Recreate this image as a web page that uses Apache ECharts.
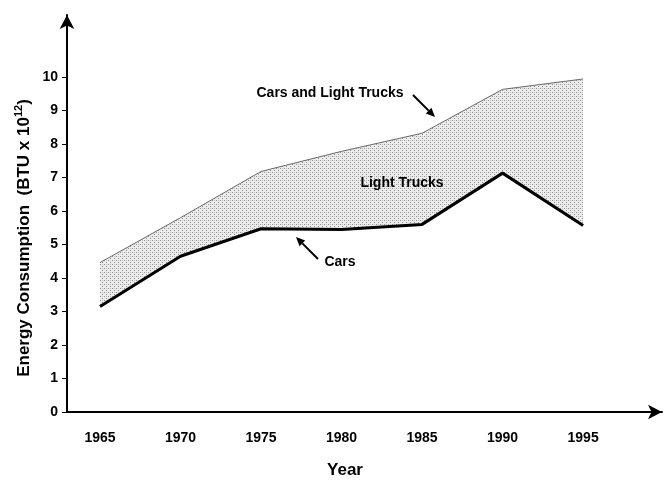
<!DOCTYPE html>
<html>
<head>
<meta charset="utf-8">
<script src="https://cdn.jsdelivr.net/npm/echarts@6/dist/echarts.min.js"></script>
<style>
html,body{margin:0;padding:0;background:#fff;}
#c{width:668px;height:481px;}
</style>
</head>
<body>
<div id="c"></div>
<script>
// ---- data ----
const years = [1965, 1970, 1975, 1980, 1985, 1990, 1995];
const carsValues = [3.15, 4.65, 5.47, 5.45, 5.6, 7.13, 5.57];
const carsAndLightTrucksValues = [4.46, 5.8, 7.18, 7.78, 8.32, 9.63, 9.94];
const xTickLabels = [1965, 1970, 1975, 1980, 1985, 1990, 1995];
const yTickLabels = [0, 1, 2, 3, 4, 5, 6, 7, 8, 9, 10];

const FONT = '"Liberation Sans", Arial, sans-serif';

// light-truck band = total minus cars (stacked on top of cars)
const lightTrucksBand = carsAndLightTrucksValues.map((v, i) => +(v - carsValues[i]).toFixed(3));

// stipple pattern for the light-truck band
function makePattern() {
  const c = document.createElement('canvas');
  c.width = 4; c.height = 4;
  const g = c.getContext('2d');
  g.fillStyle = '#ececec';
  g.fillRect(0, 0, 4, 4);
  g.fillStyle = '#909090';
  g.fillRect(0, 0, 1, 1);
  g.fillRect(2, 2, 1, 1);
  g.fillStyle = '#c4c4c4';
  g.fillRect(2, 0, 1, 1);
  return c;
}

const chart = echarts.init(document.getElementById('c'), null, {renderer: 'canvas'});

// value first, year second, so that stacking happens on the value (y) dimension
function pairs(xs, ys) { return xs.map((x, i) => [ys[i], x]); }

function arrow(x1, y1, x2, y2, head, w) {
  const ang = Math.atan2(y2 - y1, x2 - x1);
  const bx = x2 - head * Math.cos(ang), by = y2 - head * Math.sin(ang);
  const px = -Math.sin(ang) * w / 2, py = Math.cos(ang) * w / 2;
  return [
    {type: 'line', shape: {x1: x1, y1: y1, x2: bx, y2: by}, style: {stroke: '#000', lineWidth: 2}, z: 20},
    {type: 'polygon', shape: {points: [[x2, y2], [bx + px, by + py], [bx - px, by - py]]}, style: {fill: '#000'}, z: 20}
  ];
}

const option = {
  animation: false,
  backgroundColor: '#fff',
  grid: {left: 67, right: 6, top: 15, bottom: 69},
  xAxis: {
    type: 'value', min: 1962.95, max: 1999.9, z: 10,
    axisLine: {show: true, onZero: false, lineStyle: {color: '#000', width: 2}, symbol: ['none', 'arrow'], symbolSize: [11, 14]},
    axisTick: {show: false},
    splitLine: {show: false},
    axisLabel: {customValues: xTickLabels, formatter: v => String(v), color: '#000', fontFamily: FONT, fontWeight: 'bold', fontSize: 14, margin: 19}
  },
  yAxis: {
    type: 'value', min: 0, max: 11.85, z: 10,
    axisLine: {show: true, lineStyle: {color: '#000', width: 2}, symbol: ['none', 'arrow'], symbolSize: [11, 14]},
    axisTick: {show: true, customValues: yTickLabels, length: 5, inside: false, lineStyle: {color: '#000', width: 1}},
    splitLine: {show: false},
    axisLabel: {customValues: yTickLabels, formatter: v => String(v), color: '#000', fontFamily: FONT, fontWeight: 'bold', fontSize: 14, margin: 9}
  },
  series: [
    {
      name: 'Cars', type: 'line', stack: 'total', data: pairs(years, carsValues),
      encode: {x: 1, y: 0},
      symbol: 'none', lineStyle: {color: '#000', width: 3},
      z: 4
    },
    {
      name: 'Light Trucks', type: 'line', stack: 'total', data: pairs(years, lightTrucksBand),
      encode: {x: 1, y: 0},
      symbol: 'none', lineStyle: {color: '#6a6a6a', width: 1},
      areaStyle: {color: {image: makePattern(), repeat: 'repeat'}, opacity: 1},
      z: 2
    }
  ],
  graphic: [
    {type: 'text', x: 24, y: 238, rotation: Math.PI / 2,
      style: {text: '{a|Energy Consumption  (BTU x 10}{s|12}{a|)}', align: 'center', verticalAlign: 'middle',
        rich: {a: {fontFamily: FONT, fontWeight: 'bold', fontSize: 17, fill: '#000', lineHeight: 22},
               s: {fontFamily: FONT, fontWeight: 'bold', fontSize: 11, fill: '#000', verticalAlign: 'top', lineHeight: 22}}}, z: 20},
    {type: 'text', x: 345, y: 470, style: {text: 'Year', fontFamily: FONT, fontWeight: 'bold', fontSize: 17, fill: '#000', align: 'center', verticalAlign: 'middle'}, z: 20},
    {type: 'text', x: 330, y: 93, style: {text: 'Cars and Light Trucks', fontFamily: FONT, fontWeight: 'bold', fontSize: 14, fill: '#000', align: 'center', verticalAlign: 'middle'}, z: 20},
    {type: 'text', x: 402, y: 183, style: {text: 'Light Trucks', fontFamily: FONT, fontWeight: 'bold', fontSize: 14, fill: '#000', align: 'center', verticalAlign: 'middle'}, z: 20},
    {type: 'text', x: 340, y: 262, style: {text: 'Cars', fontFamily: FONT, fontWeight: 'bold', fontSize: 14, fill: '#000', align: 'center', verticalAlign: 'middle'}, z: 20}
  ].concat(arrow(413, 95, 435, 117, 9, 8)).concat(arrow(318, 259, 296, 237, 9, 8))
};

chart.setOption(option);
</script>
</body>
</html>
